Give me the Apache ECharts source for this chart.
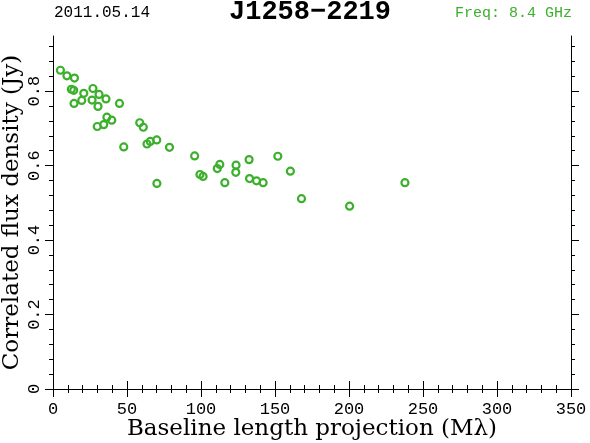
<!DOCTYPE html>
<html>
<head>
<meta charset="utf-8">
<script src="https://cdn.jsdelivr.net/npm/echarts@6/dist/echarts.min.js"></script>
<style>html,body{margin:0;padding:0;background:#fff}#c{width:590px;height:443px}</style>
</head>
<body>
<div id="c"></div>
<script>
// Data
const baselines = [5.0, 9.4, 14.5, 12.4, 14.0, 20.8, 27.0, 31.1, 14.2, 19.4, 26.4, 35.8, 30.4, 44.9, 36.4, 39.7, 34.3, 29.9, 58.6, 61.0, 47.8, 63.5, 65.7, 70.1, 78.7, 70.2, 95.7, 99.3, 101.4, 111.0, 112.7, 116.1, 123.7, 123.5, 132.5, 132.8, 137.5, 142.0, 151.9, 160.4, 167.9, 200.4, 237.8];
const fluxes = [0.856, 0.841, 0.835, 0.805, 0.802, 0.794, 0.807, 0.791, 0.767, 0.775, 0.776, 0.779, 0.759, 0.767, 0.730, 0.722, 0.710, 0.705, 0.715, 0.703, 0.650, 0.658, 0.665, 0.669, 0.649, 0.552, 0.626, 0.576, 0.571, 0.592, 0.603, 0.554, 0.601, 0.582, 0.616, 0.565, 0.559, 0.554, 0.625, 0.585, 0.511, 0.491, 0.554];
const yMajorTicks = [0, 0.2, 0.4, 0.6, 0.8];
const yMinorTicks = [0.04,0.08,0.12,0.16,0.24,0.28,0.32,0.36,0.44,0.48,0.52,0.56,0.64,0.68,0.72,0.76,0.84,0.88,0.92];
const titleText = 'J1258\u22122219';
const dateText = '2011.05.14';
const freqText = 'Freq: 8.4 GHz';
const xTitle = 'Baseline length projection (M\u03bb)';
const yTitle = 'Correlated flux density (Jy)';

const GREEN = '#3cb02c';
const tickFont = 'Liberation Mono';
const titleFont = 'DejaVu Serif';
const chart = echarts.init(document.getElementById('c'), null, {renderer: 'canvas'});
const line = {show: true, lineStyle: {color: '#000', width: 1}};
const xBase = {type: 'value', min: 0, max: 350, interval: 50, splitLine: {show: false},
  axisLine: line, axisTick: {show: true, inside: false, length: 8, lineStyle: {color: '#000'}},
  minorTick: {show: true, splitNumber: 5, length: 4, lineStyle: {color: '#000'}}, minorSplitLine: {show: false}};
const yBase = {type: 'value', min: 0, max: 0.948, interval: 0.2, splitLine: {show: false}, axisLine: line};
chart.setOption({
  animation: false,
  backgroundColor: '#fff',
  grid: {left: 53, right: 19, top: 36, bottom: 54, containLabel: false, outerBoundsMode: 'none'},
  xAxis: [
    Object.assign({}, xBase, {position: 'bottom',
      axisLabel: {show: true, margin: 12, fontFamily: tickFont, fontSize: 17, color: '#000'},
      name: xTitle, nameLocation: 'middle', nameGap: 29, nameMoveOverlap: false,
      nameTextStyle: {fontFamily: titleFont, fontSize: 23, color: '#000'}}),
    Object.assign({}, xBase, {position: 'top', axisLabel: {show: false}})
  ],
  yAxis: [
    Object.assign({}, yBase, {position: 'left',
      axisTick: {show: true, length: 8, customValues: yMajorTicks, lineStyle: {color: '#000'}},
      axisLabel: {show: true, rotate: 90, margin: 10, customValues: yMajorTicks, fontFamily: tickFont, fontSize: 17, color: '#000',
        formatter: v => String(Math.round(v * 10) / 10)},
      name: yTitle, nameLocation: 'middle', nameGap: 29, nameMoveOverlap: false,
      nameTextStyle: {fontFamily: titleFont, fontSize: 23, color: '#000'}}),
    Object.assign({}, yBase, {position: 'left', axisLine: {show: false},
      axisTick: {show: true, length: 4, customValues: yMinorTicks, lineStyle: {color: '#000'}}, axisLabel: {show: false}}),
    Object.assign({}, yBase, {position: 'right',
      axisTick: {show: true, length: 8, customValues: yMajorTicks, lineStyle: {color: '#000'}}, axisLabel: {show: false}}),
    Object.assign({}, yBase, {position: 'right', axisLine: {show: false},
      axisTick: {show: true, length: 4, customValues: yMinorTicks, lineStyle: {color: '#000'}}, axisLabel: {show: false}})
  ],
  graphic: [
    {type: 'text', left: 54, top: 5, style: {text: dateText, fontFamily: tickFont, fontSize: 16, fill: '#000'}},
    {type: 'text', left: 229, top: -1, style: {text: titleText, fontFamily: tickFont, fontWeight: 'bold', fontSize: 27, fill: '#000'}},
    {type: 'text', right: 18, top: 6, style: {text: freqText, fontFamily: tickFont, fontSize: 15, fill: GREEN}}
  ],
  series: [{
    type: 'scatter', xAxisIndex: 0, yAxisIndex: 0,
    data: baselines.map((b, i) => [b, fluxes[i]]),
    symbol: 'circle', symbolSize: 7,
    itemStyle: {color: 'rgba(255,255,255,0)', borderColor: GREEN, borderWidth: 2.2, opacity: 1}
  }]
});
</script>
</body>
</html>
